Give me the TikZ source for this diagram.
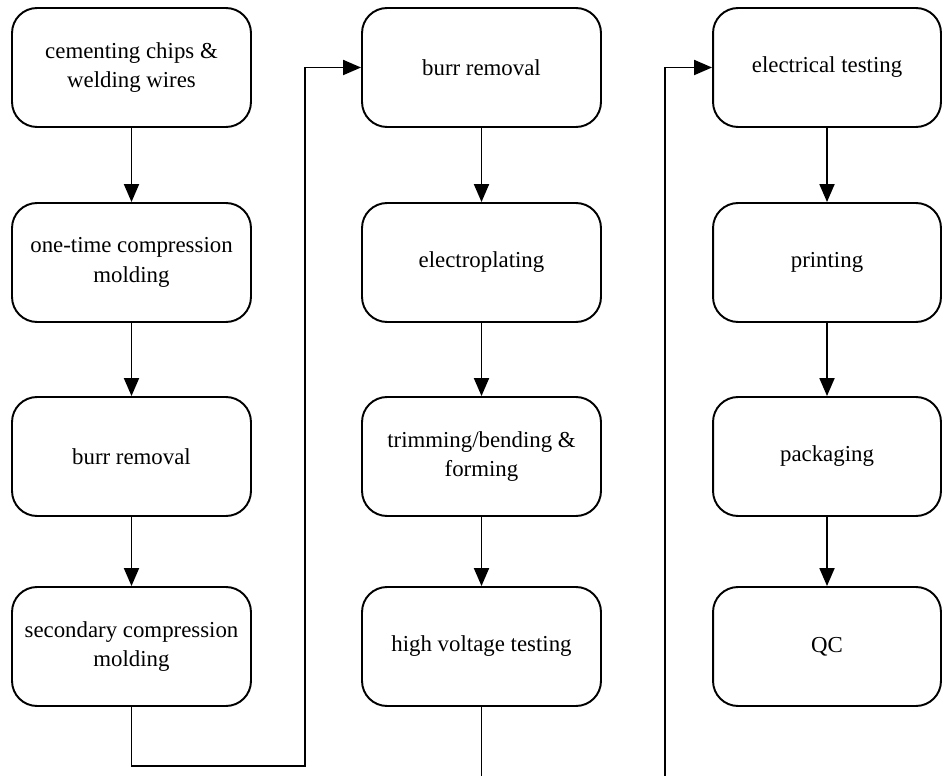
\documentclass[tikz,border=0pt]{standalone}
\usepackage{fontspec}
\setmainfont{Liberation Serif}
\usetikzlibrary{arrows.meta,positioning}
\tikzset{
  stepbox/.style={
    draw=black,line width=1.1pt,rounded corners=0.5cm,align=center,
    minimum width=4.78cm,minimum height=2.38cm,inner sep=2pt,
    font=\fontsize{13}{17}\selectfont,
  },
  flow/.style={line width=1.1pt,-{Triangle[length=0.36cm,width=0.3cm]}},
}

\begin{document}
\begin{tikzpicture}[x=0.02cm,y=-0.02cm]
    \useasboundingbox (0,0) rectangle (942,776);
    % first column
    \node[stepbox] (c1) at (131.5,67.5) {cementing chips \&\\welding wires};
    \node[stepbox] (c2) at (131.5,262.5) {one-time compression\\molding};
    \node[stepbox] (c3) at (131.5,456.5) {burr removal};
    \node[stepbox] (c4) at (131.5,646.5) {secondary compression\\molding};
    % second column
    \node[stepbox] (m1) at (481.5,67.5) {burr removal};
    \node[stepbox] (m2) at (481.5,262.5) {electroplating};
    \node[stepbox] (m3) at (481.5,456.5) {trimming/bending \&\\forming};
    \node[stepbox] (m4) at (481.5,646.5) {high voltage testing};
    % third column
    \node[stepbox,minimum width=4.56cm] (r1) at (827,67.5) {electrical testing};
    \node[stepbox,minimum width=4.56cm] (r2) at (827,262.5) {printing};
    \node[stepbox,minimum width=4.56cm] (r3) at (827,456.5) {packaging};
    \node[stepbox,minimum width=4.56cm] (r4) at (827,646.5) {QC};
    % turning points
    \coordinate (jA) at (305,766);
    \coordinate (jB) at (481.5,790);
    \coordinate (jC) at (665,790);
    % arrows
    \draw[flow] (c1) -- (c2);
    \draw[flow] (c2) -- (c3);
    \draw[flow] (c3) -- (c4);
    \draw[flow] (c4.south) |- (jA) |- (m1.west);
    \draw[flow] (m1) -- (m2);
    \draw[flow] (m2) -- (m3);
    \draw[flow] (m3) -- (m4);
    \draw[line width=1.1pt] (m4.south) -- (jB);
    \draw[flow] (jC) |- (r1.west);
    \draw[flow] (r1) -- (r2);
    \draw[flow] (r2) -- (r3);
    \draw[flow] (r3) -- (r4);
\end{tikzpicture}
\end{document}
